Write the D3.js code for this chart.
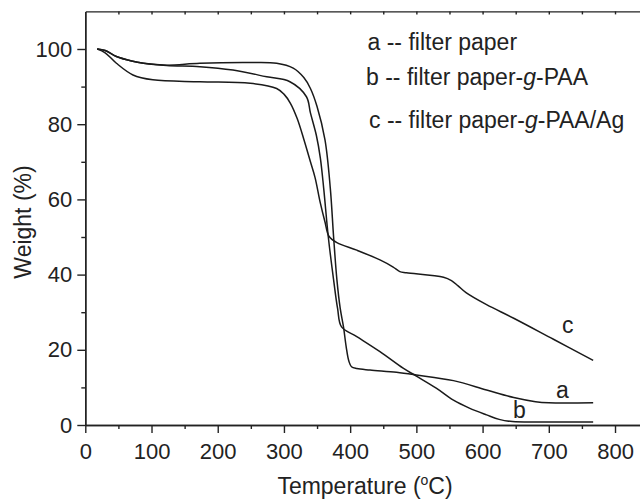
<!DOCTYPE html>
<html>
<head>
<meta charset="utf-8">
<script src="https://cdn.jsdelivr.net/npm/d3@7"></script>
<style>
  body { margin: 0; background: #fff; }
  svg { display: block; font-family: "Liberation Sans", Arial, sans-serif; }
  .axis path, .axis line { stroke: #222; stroke-width: 1.4; }
  .axis text { font-size: 22px; fill: #222; font-family: "Liberation Sans", Arial, sans-serif; }
  .curve { fill: none; stroke: #1a1a1a; stroke-width: 1.5; }
</style>
</head>
<body>
<svg width="640" height="502"></svg>
<script>
// TGA curves (temperature in degC, weight in %)
var tempA   = [18, 30, 47, 70, 88, 123, 173, 249, 289, 314, 330, 340, 350, 362, 370, 375, 380, 385, 390, 394, 398, 402, 410, 430, 470, 500, 556, 606, 647, 680, 700, 767];
var weightA = [100, 99.6, 98, 96.8, 96.2, 95.7, 96.2, 96.4, 96.2, 94.9, 92.4, 89.5, 84.7, 75.8, 63, 50, 38.6, 31, 26, 20.8, 17, 15.5, 15, 14.6, 14, 13.3, 11.8, 9.3, 7.3, 6.2, 5.9, 5.9];

var tempB   = [18, 30, 47, 70, 88, 123, 173, 223, 274, 309, 334, 340, 349, 355, 360, 367, 375, 381, 387, 410, 445, 480, 500, 530, 556, 580, 606, 625, 645, 700, 767];
var weightB = [100, 99.6, 98, 96.8, 96.2, 95.6, 95.3, 94.4, 92.6, 91.3, 87.3, 83, 77, 71, 63, 50, 38.6, 31, 26.1, 23.5, 19.5, 15.1, 13, 9.8, 6.6, 4.5, 2.7, 1.5, 0.9, 0.8, 0.8];

var tempC   = [18, 30, 47, 72, 102, 173, 249, 289, 300, 310, 320, 330, 340, 347, 355, 362, 368, 380, 410, 445, 465, 475, 485, 541, 553, 563, 575, 606, 647, 707, 767];
var weightC = [100, 99, 96.2, 93.1, 91.8, 91.3, 90.9, 89.5, 88, 85.5, 81.5, 76, 70, 65.8, 59, 54, 50.2, 48.5, 46.5, 43.9, 42, 40.8, 40.5, 39.3, 38.4, 37.0, 35.2, 32, 28.4, 22.8, 17.2];

var curveLabels = ["a", "b", "c"];
var legendNames = ["filter paper", "filter paper-", "filter paper-"];

var xMajor = [0, 100, 200, 300, 400, 500, 600, 700, 800];
var yMajor = [0, 20, 40, 60, 80, 100];

var svg = d3.select("svg");

var x = d3.scaleLinear().domain([0, 840]).range([85.3, 641.5]);
var y = d3.scaleLinear().domain([0, 110]).range([425, 11.4]);

// top frame line with small inward ticks
svg.append("g")
    .attr("class", "axis")
    .attr("transform", "translate(0," + y(110) + ")")
    .call(d3.axisTop(x).tickValues(d3.range(50, 850, 50)).tickSize(-3).tickSizeOuter(0).tickFormat(""));

// bottom axis, minor then major
svg.append("g")
    .attr("class", "axis")
    .attr("transform", "translate(0," + y(0) + ")")
    .call(d3.axisBottom(x).tickValues(d3.range(50, 850, 100)).tickSize(4).tickSizeOuter(0).tickFormat(""));
svg.append("g")
    .attr("class", "axis")
    .attr("transform", "translate(0," + y(0) + ")")
    .call(d3.axisBottom(x).tickValues(xMajor).tickSize(8).tickPadding(10).tickSizeOuter(0));

// left axis
svg.append("g")
    .attr("class", "axis")
    .attr("transform", "translate(" + x(0) + ",0)")
    .call(d3.axisLeft(y).tickValues(d3.range(10, 110, 20)).tickSize(4).tickSizeOuter(0).tickFormat(""));
svg.append("g")
    .attr("class", "axis")
    .attr("transform", "translate(" + x(0) + ",0)")
    .call(d3.axisLeft(y).tickValues(yMajor).tickSize(8).tickPadding(5).tickSizeOuter(0));

// curves
var series = [
  {name: "a", t: tempA, w: weightA},
  {name: "b", t: tempB, w: weightB},
  {name: "c", t: tempC, w: weightC}
];

var line = d3.line()
    .x(function(d) { return x(d[0]); })
    .y(function(d) { return y(d[1]); })
    .curve(d3.curveCatmullRom.alpha(0.5));

svg.selectAll(".curve")
  .data(series)
  .enter().append("path")
    .attr("class", "curve")
    .attr("d", function(s) { return line(d3.zip(s.t, s.w)); });

// letters next to the curves
var letterPos = [[556, 398], [513, 418], [562, 333]];
svg.selectAll(".letter")
  .data(curveLabels)
  .enter().append("text")
    .attr("class", "letter")
    .attr("x", function(d, i) { return letterPos[i][0]; })
    .attr("y", function(d, i) { return letterPos[i][1]; })
    .attr("font-size", 23)
    .attr("fill", "#222")
    .text(function(d) { return d; });

// legend text block
var legY = [50, 85, 128];
var legX = [367.5, 366, 369];
var leg = svg.selectAll(".leg")
  .data(curveLabels)
  .enter().append("text")
    .attr("class", "leg")
    .attr("x", function(d, i) { return legX[i]; })
    .attr("y", function(d, i) { return legY[i]; })
    .attr("font-size", 23)
    .attr("fill", "#222");

leg.append("tspan").text(function(d, i) { return d + " -- " + legendNames[i]; });
leg.filter(function(d, i) { return i > 0; })
  .append("tspan").attr("font-style", "italic").text("g");
leg.filter(function(d, i) { return i > 0; })
  .append("tspan").text(function(d, i) { return i == 0 ? "-PAA" : "-PAA/Ag"; });

// axis titles
var xt = svg.append("text")
    .attr("x", 365)
    .attr("y", 494)
    .attr("text-anchor", "middle")
    .attr("font-size", 23)
    .attr("fill", "#222");
xt.append("tspan").text("Temperature (");
xt.append("tspan").attr("font-size", 14).attr("dy", -9).text("o");
xt.append("tspan").attr("dy", 9).text("C)");

svg.append("text")
    .attr("transform", "translate(31,222) rotate(-90)")
    .attr("text-anchor", "middle")
    .attr("font-size", 23)
    .attr("fill", "#222")
    .text("Weight (%)");
</script>
</body>
</html>
